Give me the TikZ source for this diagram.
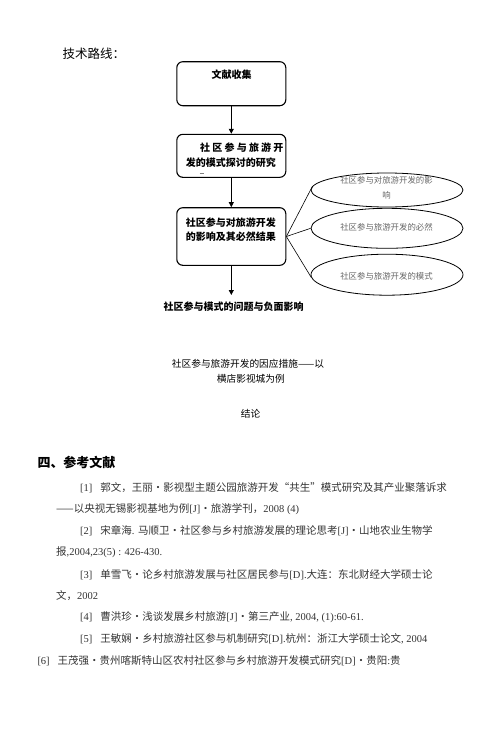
\documentclass[tikz,border=0pt]{standalone}
\usepackage{fontspec}
\setmainfont{Noto Sans CJK SC}
\newfontfamily\tmfont{Liberation Serif}
\usetikzlibrary{arrows.meta,shapes.geometric}
\newcommand\TM[1]{{\tmfont #1}}
\tikzset{
  flowbox/.style={draw, line width=1.1pt, rounded corners=6pt, minimum width=109pt, inner sep=0pt},
  boxtext/.style={anchor=west, inner sep=0pt, font=\fontsize{10}{14}\selectfont\bfseries},
  oval/.style={draw, ellipse, line width=0.8pt, minimum width=152pt, inner sep=0pt},
  ovaltext/.style={inner sep=0pt, align=center, text=black!60, font=\fontsize{8.4}{15}\selectfont},
  flowarrow/.style={line width=0.8pt, -{Triangle[length=5pt,width=5pt]}},
  plaintext/.style={inner sep=0pt, font=\fontsize{9.7}{14}\selectfont},
  reftext/.style={anchor=west, inner sep=0pt, text=black!80, font=\fontsize{10.5}{14}\selectfont},
  connector/.style={line width=0.6pt}
}
\begin{document}
\begin{tikzpicture}[x=1pt,y=-1pt]
\useasboundingbox (0,0) rectangle (500,739);

\node[anchor=west, inner sep=0pt, font=\fontsize{12.5}{14}\selectfont] (title) at (62.5,54) {技术路线：};

% boxes
\node[flowbox, minimum height=44pt] (b1) at (231.3,83.7) {};
\node[flowbox, minimum height=43pt] (b2) at (231.3,155.8) {};
\node[flowbox, minimum height=57.6pt] (b3) at (231.3,236.5) {};
\coordinate (b4) at (231.3,295);

\node[boxtext] (t1) at (211.5,75) {文献收集};
\node[boxtext] (t2a) at (200,148) {社\kern2.2pt 区\kern2.2pt 参\kern2.2pt 与\kern2.2pt 旅\kern2.2pt 游\kern2.2pt 开};
\node[boxtext] (t2b) at (185.7,162.7) {发的模式探讨的研究};
\draw[black!50, line width=0.6pt] (199.5,173) -- (204,173);
\node[boxtext] (t3a) at (185.7,222.7) {社区参与对旅游开发};
\node[boxtext] (t3b) at (185.7,236.5) {的影响及其必然结果};

\draw[flowarrow] (b1) -- (b2);
\draw[flowarrow] (b2) -- (b3);
\draw[flowarrow] (b3) -- (b4);

\node[anchor=west, inner sep=0pt, font=\fontsize{10}{14}\selectfont\bfseries] (t4) at (163.3,306.7) {社区参与模式的问题与负面影响};

% ellipses
\node[oval, minimum height=34pt] (e1) at (387,190) {};
\node[oval, minimum height=40pt] (e2) at (387,228.3) {};
\node[oval, minimum height=41pt] (e3) at (387,274.7) {};
\node[ovaltext] (et1) at (386.5,188.2) {社区参与对旅游开发的影\\响};
\node[ovaltext] (et2) at (386.5,227.7) {社区参与旅游开发的必然};
\node[ovaltext] (et3) at (386.5,276) {社区参与旅游开发的模式};

\draw[connector] (b3.east) -- (e1.177);
\draw[connector] (b3.east) -- (e2.west);
\draw[connector] (b3.east) -- (e3.182);

% middle text
\node[plaintext, anchor=west] (m1) at (171.7,364) {社区参与旅游开发的因应措施——以};
\node[plaintext, anchor=west] (m2) at (216.7,379.3) {横店影视城为例};
\node[plaintext, anchor=west] (m3) at (240.7,414) {结论};

% references
\node[anchor=west, inner sep=0pt, font=\fontsize{13}{14}\selectfont\bfseries] (h4) at (37.3,462.7) {四、参考文献};

\node[reftext] (r1) at (80,487.7) {\TM{[1]}\hspace{8pt}郭文，王丽•影视型主题公园旅游开发“共生”模式研究及其产业聚落诉求};
\node[reftext] (r1b) at (56,509.3) {——以央视无锡影视基地为例\TM{[J]}•旅游学刊，\TM{2008 (4)}};
\node[reftext] (r2) at (80,530.7) {\TM{[2]}\hspace{8pt}宋章海\TM{. }马顺卫•社区参与乡村旅游发展的理论思考\TM{[J]}•山地农业生物学};
\node[reftext] (r2b) at (56,552.7) {报\TM{,2004,23(5) : 426-430.}};
\node[reftext] (r3) at (80,574.3) {\TM{[3]}\hspace{8pt}单雪飞•论乡村旅游发展与社区居民参与\TM{[D].}大连：东北财经大学硕士论};
\node[reftext] (r3b) at (56,595.3) {文，\TM{2002}};
\node[reftext] (r4) at (80,617.3) {\TM{[4]}\hspace{8pt}曹洪珍•浅谈发展乡村旅游\TM{[J]}•第三产业\TM{, 2004, (1):60-61.}};
\node[reftext] (r5) at (80,639) {\TM{[5]}\hspace{8pt}王敏娴•乡村旅游社区参与机制研究\TM{[D].}杭州：浙江大学硕士论文\TM{, 2004}};
\node[reftext] (r6) at (37.3,660.7) {\TM{[6]}\hspace{8pt}王茂强•贵州喀斯特山区农村社区参与乡村旅游开发模式研究\TM{[D]}•贵阳\TM{:}贵};
\end{tikzpicture}
\end{document}
